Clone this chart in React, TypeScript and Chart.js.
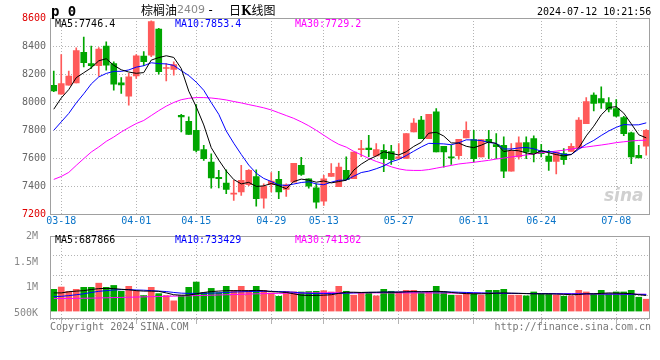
import { useEffect, useRef } from "react";
import { Chart, registerables } from "chart.js";
Chart.register(...registerables);

const dates = [
  "03-15","03-18","03-19","03-20","03-21","03-22","03-25","03-26","03-27","03-28","03-29",
  "04-01","04-02","04-03","04-08","04-09","04-10","04-11","04-12",
  "04-15","04-16","04-17","04-18","04-19","04-22","04-23","04-24","04-25","04-26",
  "04-29","04-30","05-06","05-07","05-08","05-09","05-10",
  "05-13","05-14","05-15","05-16","05-17","05-20","05-21","05-22","05-23","05-24",
  "05-27","05-28","05-29","05-30","05-31","06-03","06-04","06-05","06-06","06-07",
  "06-11","06-12","06-13","06-14","06-17","06-18","06-19","06-20","06-21",
  "06-24","06-25","06-26","06-27","06-28","07-01","07-02","07-03","07-04","07-05",
  "07-08","07-09","07-10","07-11","07-12"
];
const tickDates = ["03-18","04-01","04-15","04-29","05-13","05-27","06-11","06-24","07-08"];

const opens = [
  8121,8057,8121,8138,8355,8276,8260,8400,8276,8138,8043,8188,8329,8336,8521,8240,8233,7907,7864,7800,
  7662,7574,7464,7424,7345,7360,7412,7471,7317,7412,7450,7379,7431,7550,7455,7390,7295,7471,7398,7514,
  7455,7662,7674,7617,7657,7648,7600,7600,7788,7872,7741,7931,7686,7610,7619,7745,7733,7610,7736,7698,
  7693,7508,7610,7712,7741,7652,7617,7579,7634,7650,7674,7848,8050,8026,7998,7955,7890,7781,7622,7686
];
const closes = [
  8081,8133,8186,8367,8281,8260,8379,8264,8129,8124,8181,8331,8288,8574,8217,8245,8269,7895,7771,7657,
  7598,7460,7455,7379,7352,7443,7514,7312,7400,7438,7360,7412,7564,7486,7402,7288,7455,7493,7538,7448,
  7645,7669,7662,7662,7598,7590,7610,7776,7852,7741,7914,7645,7645,7603,7736,7800,7598,7733,7717,7683,
  7508,7650,7710,7645,7634,7634,7579,7645,7591,7686,7872,8005,7991,7995,7950,7900,7776,7610,7603,7800
];
const highs = [
  8221,8340,8221,8388,8464,8400,8390,8431,8288,8176,8205,8340,8360,8579,8526,8276,8288,7914,7895,7983,
  7693,7633,7514,7519,7443,7550,7520,7519,7419,7498,7507,7419,7564,7607,7455,7419,7479,7562,7567,7610,
  7645,7729,7764,7705,7698,7693,7705,7776,7883,7900,7914,7955,7686,7693,7736,7860,7800,7733,7800,7776,
  7753,7705,7753,7753,7760,7700,7657,7645,7669,7705,7891,8033,8067,8110,8033,8019,7900,7788,7693,7805
];
const lows = [
  8075,8057,8121,8138,8252,8240,8186,8229,8086,8062,7979,8169,8260,8324,8200,8152,8193,7788,7771,7645,
  7586,7388,7390,7348,7300,7336,7405,7260,7245,7360,7312,7329,7431,7479,7388,7245,7264,7471,7398,7448,
  7455,7612,7612,7617,7505,7557,7600,7600,7788,7741,7741,7645,7538,7557,7595,7745,7574,7610,7598,7598,
  7462,7508,7595,7598,7574,7610,7514,7490,7557,7650,7674,7848,7938,7955,7931,7895,7762,7562,7612,7622
];
const ma5 = [
  7950,8030,8090,8175,8210,8245,8295,8310,8263,8231,8215,8206,8211,8300,8318,8331,8319,8240,8079,7967,
  7838,7676,7588,7510,7449,7418,7429,7400,7404,7421,7405,7384,7435,7452,7445,7430,7439,7425,7435,7444,
  7516,7559,7592,7617,7647,7636,7624,7647,7685,7714,7779,7786,7759,7710,7709,7686,7676,7694,7717,7706,
  7648,7658,7654,7639,7629,7655,7640,7627,7617,7627,7675,7760,7829,7910,7963,7968,7922,7846,7768,7746
];
const ma10 = [
  7800,7860,7920,7995,8060,8130,8180,8205,8220,8220,8230,8250,8260,8281,8275,8273,8262,8225,8190,8143,
  8085,7997,7914,7795,7708,7628,7552,7494,7457,7435,7411,7407,7417,7428,7433,7418,7412,7430,7444,7445,
  7473,7499,7509,7526,7546,7576,7592,7620,7651,7681,7707,7705,7703,7697,7711,7732,7731,7727,7713,7707,
  7667,7667,7674,7678,7668,7651,7649,7641,7628,7628,7665,7700,7728,7763,7795,7821,7841,7838,7839,7853
];
const ma30 = [
  7450,7471,7500,7550,7598,7645,7681,7721,7752,7788,7819,7848,7870,7905,7940,7972,7998,8018,8028,8033,
  8033,8030,8024,8016,8005,7995,7983,7972,7960,7945,7925,7905,7885,7860,7832,7800,7765,7730,7700,7680,
  7650,7625,7600,7578,7560,7540,7525,7516,7514,7514,7520,7530,7540,7550,7560,7566,7572,7579,7586,7595,
  7602,7610,7617,7624,7632,7640,7645,7652,7658,7666,7674,7681,7688,7695,7703,7712,7718,7724,7728,7729
];

const volumes = [
  959000,1060000,872000,959000,1046000,1046000,1230000,1046000,1130000,872000,1090000,872000,684000,1046000,770000,684000,450000,684000,1046000,1280000,
  814000,1000000,814000,1090000,915000,1090000,915000,1090000,915000,800000,650000,870000,850000,842000,860000,870000,900000,842000,1090000,872000,
  700000,814000,814000,670000,959000,872000,842000,915000,915000,800000,872000,1090000,842000,700000,700000,800000,770000,700000,915000,915000,
  959000,700000,700000,670000,842000,770000,742000,700000,655000,670000,915000,842000,742000,915000,770000,842000,842000,915000,610000,523000
];
const volMa5 = [
  800000,800000,850000,880000,900000,950000,990000,1000000,990000,960000,940000,900000,880000,880000,870000,800000,720000,700000,700000,760000,
  820000,860000,880000,900000,900000,900000,900000,910000,900000,860000,840000,820000,760000,700000,690000,690000,700000,720000,780000,830000,
  830000,820000,830000,830000,840000,830000,830000,850000,860000,850000,860000,870000,860000,820000,790000,770000,760000,760000,770000,790000,
  800000,790000,780000,770000,760000,760000,760000,750000,740000,720000,730000,760000,760000,780000,800000,790000,780000,770000,720000,687866
];
const volMa10 = [
  640000,650000,680000,720000,760000,820000,870000,900000,930000,945000,945000,930000,920000,900000,880000,860000,820000,790000,780000,780000,
  780000,790000,800000,820000,840000,850000,860000,870000,870000,870000,860000,850000,830000,800000,780000,770000,770000,775000,780000,790000,
  800000,810000,820000,825000,830000,835000,840000,845000,850000,850000,850000,850000,845000,840000,830000,820000,810000,800000,790000,785000,
  780000,780000,780000,775000,770000,770000,770000,765000,760000,760000,760000,760000,760000,755000,750000,750000,745000,740000,737000,733429
];
const volMa30 = [
  550000,553000,556000,560000,565000,570000,578000,586000,594000,602000,610000,618000,626000,634000,642000,650000,658000,666000,674000,682000,
  690000,700000,710000,720000,730000,740000,750000,760000,768000,775000,780000,785000,790000,795000,800000,802000,804000,805000,805000,805000,
  804000,803000,802000,800000,800000,800000,800000,800000,800000,800000,798000,796000,794000,792000,790000,788000,786000,784000,782000,780000,
  778000,776000,774000,772000,770000,768000,766000,764000,762000,760000,758000,756000,754000,752000,750000,748000,746000,744000,742000,741302
];

const priceMin = 7200;
const priceMax = 8600;
const priceStep = 200;
const volLabelTicks = [500000, 1000000, 1500000, 2000000];

const RED = "#FF5A5A";
const GREEN = "#00A600";
const MONO = "'DejaVu Sans Mono', 'Liberation Mono', monospace";
const GRID = "#b4b4b4";
const FRAME = "#a0a0a0";

const candleColors = opens.map((o, i) => (closes[i] >= o ? RED : GREEN));

function fmtVol(v: number) {
  if (v >= 1000000) return v / 1000000 + "M";
  return v / 1000 + "K";
}

function framePlugin(id: string) {
  return {
    id,
    afterDraw(chart: any) {
      const { ctx, chartArea: a } = chart;
      ctx.save();
      ctx.strokeStyle = FRAME;
      ctx.lineWidth = 1;
      ctx.strokeRect(Math.round(a.left) + 0.5, Math.round(a.top) + 0.5, Math.round(a.right - a.left) - 1, Math.round(a.bottom - a.top) - 1);
      ctx.restore();
    },
  };
}

function legendPlugin(id: string, items: { text: string; color: string }[], dy: number) {
  return {
    id,
    afterDraw(chart: any) {
      const { ctx, chartArea: a } = chart;
      ctx.save();
      ctx.font = "10px " + MONO;
      ctx.textBaseline = "middle";
      items.forEach((it, i) => {
        ctx.fillStyle = it.color;
        ctx.fillText(it.text, a.left + 5 + i * 120, a.top + dy);
      });
      ctx.restore();
    },
  };
}

function filterDateTicks(axis: any) {
  axis.ticks = axis.ticks.filter((t: any) => tickDates.includes(dates[t.value]));
}

export default function App() {
  const priceRef = useRef<HTMLCanvasElement>(null);
  const volRef = useRef<HTMLCanvasElement>(null);

  useEffect(() => {
    document.body.style.margin = "0";
    const pc = new Chart(priceRef.current!, {
      type: "bar",
      data: {
        labels: dates,
        datasets: [
          { type: "line", data: ma5, borderColor: "#000000", borderWidth: 1, pointRadius: 0, order: 0 } as any,
          { type: "line", data: ma10, borderColor: "#0000FF", borderWidth: 1, pointRadius: 0, order: 0 } as any,
          { type: "line", data: ma30, borderColor: "#FF00FF", borderWidth: 1, pointRadius: 0, order: 0 } as any,
          {
            type: "bar",
            data: lows.map((l, i) => [l, highs[i]]),
            backgroundColor: candleColors,
            barThickness: 1,
            grouped: false,
            order: 2,
          } as any,
          {
            type: "bar",
            data: opens.map((o, i) => [o, closes[i]]),
            backgroundColor: candleColors,
            barThickness: 6,
            minBarLength: 1,
            grouped: false,
            order: 1,
          } as any,
        ],
      },
      options: {
        animation: false,
        responsive: false,
        devicePixelRatio: 1,
        events: [],
        layout: { padding: { top: 18, right: 10, left: 0, bottom: 0 } },
        plugins: { legend: { display: false }, tooltip: { enabled: false } },
        scales: {
          x: {
            type: "category",
            offset: true,
            grid: { offset: false, color: GRID, drawTicks: false },
            border: { display: false, dash: [1, 2] },
            ticks: {
              autoSkip: false,
              maxRotation: 0,
              color: "#0A74C8",
              font: { family: MONO, size: 10 },
              padding: 1,
            },
            afterBuildTicks: filterDateTicks,
            afterFit: (s: any) => { s.height = 17.5; },
          },
          y: {
            min: priceMin,
            max: priceMax,
            ticks: {
              stepSize: priceStep,
              color: (c: any) => (c.tick && (c.tick.value === priceMin || c.tick.value === priceMax) ? "#E00000" : "#666666"),
              font: { family: MONO, size: 10 },
              padding: 4,
              callback: (v: any) => String(v),
            },
            grid: { color: GRID, drawTicks: false },
            border: { display: false, dash: [1, 2] },
            afterFit: (s: any) => { s.width = 50; },
          },
        },
      },
      plugins: [
        framePlugin("frameP"),
        legendPlugin("legP", [
          { text: "MA5:7746.4", color: "#000000" },
          { text: "MA10:7853.4", color: "#0000FF" },
          { text: "MA30:7729.2", color: "#FF00FF" },
        ], 6.5),
      ],
    });

    const vc = new Chart(volRef.current!, {
      type: "bar",
      data: {
        labels: dates,
        datasets: [
          { type: "line", data: volMa5, borderColor: "#000000", borderWidth: 1, pointRadius: 0, order: 0, yAxisID: "yv" } as any,
          { type: "line", data: volMa10, borderColor: "#0000FF", borderWidth: 1, pointRadius: 0, order: 0, yAxisID: "yv" } as any,
          { type: "line", data: volMa30, borderColor: "#FF00FF", borderWidth: 1, pointRadius: 0, order: 0, yAxisID: "yv" } as any,
          {
            type: "bar",
            data: volumes,
            backgroundColor: candleColors,
            barThickness: 6,
            yAxisID: "yv",
            order: 1,
          } as any,
        ],
      },
      options: {
        animation: false,
        responsive: false,
        devicePixelRatio: 1,
        events: [],
        layout: { padding: { top: 9, right: 10, left: 0, bottom: 0 } },
        plugins: { legend: { display: false }, tooltip: { enabled: false } },
        scales: {
          x: {
            type: "category",
            offset: true,
            grid: { offset: false, color: GRID, drawTicks: true, tickLength: 5 },
            border: { display: false, dash: [1, 2] },
            ticks: { display: false, autoSkip: false },
            afterBuildTicks: filterDateTicks,
            afterFit: (s: any) => { s.height = 17; },
          },
          yl: {
            position: "left",
            min: 400000,
            max: 2000000,
            afterBuildTicks: (axis: any) => { axis.ticks = volLabelTicks.map((v) => ({ value: v })); },
            ticks: {
              color: "#888888",
              font: { family: MONO, size: 10 },
              padding: 4,
              callback: (v: any) => fmtVol(Number(v)),
            },
            grid: { display: false },
            border: { display: false },
            afterFit: (s: any) => { s.width = 50; },
          },
          yg: {
            display: true,
            position: "right",
            reverse: true,
            min: 0,
            max: 4.2,
            ticks: { display: false, stepSize: 1 },
            grid: { color: GRID, drawTicks: false },
            border: { display: false, dash: [1, 2] },
            afterFit: (s: any) => { s.width = 0; },
          },
          yv: {
            display: false,
            min: -350000,
            max: 3310000,
          },
        },
      },
      plugins: [
        framePlugin("frameV"),
        legendPlugin("legV", [
          { text: "MA5:687866", color: "#000000" },
          { text: "MA10:733429", color: "#0000FF" },
          { text: "MA30:741302", color: "#FF00FF" },
        ], 4),
      ],
    });

    return () => {
      pc.destroy();
      vc.destroy();
    };
  }, []);

  const abs = (left: number, top: number, extra: any = {}) => ({
    position: "absolute" as const,
    left,
    top,
    whiteSpace: "nowrap" as const,
    lineHeight: "14px",
    ...extra,
  });
  const CJK = "'Noto Sans CJK SC', sans-serif";

  return (
    <div style={{ position: "fixed", left: 0, top: 0, width: 660, height: 360, background: "#fff", overflow: "hidden" }}>
      <canvas ref={priceRef} width={660} height={232} style={{ position: "absolute", left: 0, top: 0, width: 660, height: 232 }} />
      <canvas ref={volRef} width={660} height={110} style={{ position: "absolute", left: 0, top: 226, width: 660, height: 110 }} />
      <div style={abs(51, 4, { fontFamily: MONO, fontWeight: "bold", fontSize: 14, color: "#000" })}>p 0</div>
      <div style={abs(141, 3, { fontFamily: CJK, fontSize: 12, color: "#000" })}>棕榈油</div>
      <div style={abs(177, 3, { fontFamily: "'DejaVu Sans', sans-serif", fontSize: 11, color: "#888" })}>2409</div>
      <div style={abs(207, 3, { fontFamily: MONO, fontSize: 12, color: "#000" })}>-</div>
      <div style={abs(229, 3, { fontFamily: CJK, fontSize: 12, color: "#000" })}>
        日<span style={{ fontFamily: "'DejaVu Serif', serif", fontWeight: "bold" }}>K</span>线图
      </div>
      <div style={abs(537, 5, { fontFamily: MONO, fontSize: 10, color: "#000" })}>2024-07-12 10:21:56</div>
      <div style={abs(604, 188, { fontFamily: "'DejaVu Sans', sans-serif", fontStyle: "italic", fontWeight: "bold", fontSize: 17, color: "#d0d0d0" })}>sina</div>
      <div style={abs(50, 320, { fontFamily: MONO, fontSize: 10, color: "#777" })}>Copyright 2024 SINA.COM</div>
      <div style={abs(0, 320, { fontFamily: MONO, fontSize: 10, color: "#777", width: 651, textAlign: "right" })}>http://finance.sina.com.cn</div>
    </div>
  );
}
